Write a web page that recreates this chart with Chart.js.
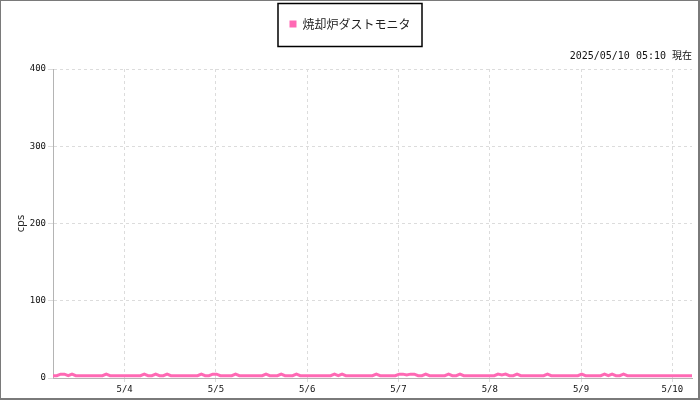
<!DOCTYPE html>
<html>
<head>
<meta charset="utf-8">
<script src="https://cdn.jsdelivr.net/npm/chart.js@4.4.0/dist/chart.umd.min.js"></script>
<style>
    body { margin: 0; background: #fff; }
</style>
</head>
<body>
<canvas id="chart_dust" width="700" height="400"></canvas>
<script>
// chart data
var seriesName = '焼却炉ダストモニタ';
var asOfText = '2025/05/10 05:10 現在';
var startTime = new Date(2025, 4, 3, 5, 10);   // first sample, hourly after that
var dayDates = [
    new Date(2025, 4, 4), new Date(2025, 4, 5), new Date(2025, 4, 6), new Date(2025, 4, 7),
    new Date(2025, 4, 8), new Date(2025, 4, 9), new Date(2025, 4, 10)
];
var dayLabels = ['5/4', '5/5', '5/6', '5/7', '5/8', '5/9', '5/10'];
var yTicks = [0, 100, 200, 300, 400];
var dust = [
    3, 3, 5, 5, 3, 5, 3, 3, 3, 3, 3, 3, 3, 3, 5, 3, 3, 3, 3, 3, 3, 3, 3, 3,
    5, 3, 3, 5, 3, 3, 5, 3, 3, 3, 3, 3, 3, 3, 3, 5, 3, 3, 5, 5, 3, 3, 3, 3,
    5, 3, 3, 3, 3, 3, 3, 3, 5, 3, 3, 3, 5, 3, 3, 3, 5, 3, 3, 3, 3, 3, 3, 3,
    3, 3, 5, 3, 5, 3, 3, 3, 3, 3, 3, 3, 3, 5, 3, 3, 3, 3, 3, 5, 5, 4, 5, 5,
    3, 3, 5, 3, 3, 3, 3, 3, 5, 3, 3, 5, 3, 3, 3, 3, 3, 3, 3, 3, 3, 5, 4, 5,
    3, 3, 5, 3, 3, 3, 3, 3, 3, 3, 5, 3, 3, 3, 3, 3, 3, 3, 3, 5, 3, 3, 3, 3,
    3, 5, 3, 5, 3, 3, 5, 3, 3, 3, 3, 3, 3, 3, 3, 3, 3, 3, 3, 3, 3, 3, 3, 3,
    3
];

var HOUR = 3600 * 1000;
var dayOffsets = [];
for (var d in dayDates) {
    dayOffsets.push((dayDates[d] - startTime) / HOUR);
}
var points = [];
for (var i in dust) {
    points.push({ x: Number(i), y: dust[i] });
}

// white background, outer frame and the box around the legend
var frame = {
    id: 'frame',
    beforeDraw: function (chart) {
        var ctx = chart.ctx;
        ctx.save();
        ctx.fillStyle = '#fff';
        ctx.fillRect(0, 0, chart.width, chart.height);
        ctx.restore();
    },
    afterDraw: function (chart) {
        var ctx = chart.ctx;
        var hb = chart.legend.legendHitBoxes[0];
        ctx.save();
        ctx.strokeStyle = '#000';
        ctx.lineWidth = 1.5;
        ctx.strokeRect(hb.left - 11.5, hb.top - 14.5, hb.width + 23, 43);
        ctx.fillStyle = '#7a7a7a';
        ctx.fillRect(0, 0, chart.width, 1);
        ctx.fillRect(0, 0, 1, chart.height);
        ctx.fillRect(chart.width - 2, 0, 2, chart.height);
        ctx.fillRect(0, chart.height - 2, chart.width, 2);
        ctx.restore();
    }
};

var ctx = document.getElementById('chart_dust');
new Chart(ctx, {
    type: 'line',
    data: {
        datasets: [{
            label: seriesName,
            data: points,
            borderColor: '#ff69b4',
            backgroundColor: '#ff69b4',
            borderWidth: 3,
            pointRadius: 0,
            tension: 0,
            fill: false
        }]
    },
    plugins: [frame],
    options: {
        responsive: false,
        animation: false,
        devicePixelRatio: 1,
        layout: {
            padding: { top: 2, left: 8, right: 8, bottom: 0 }
        },
        plugins: {
            legend: {
                display: true,
                labels: {
                    boxWidth: 7,
                    boxHeight: 7,
                    padding: 16,
                    color: '#222',
                    font: { family: "'Noto Sans CJK JP', 'Noto Sans'", size: 12 },
                    generateLabels: function (chart) {
                        var items = Chart.defaults.plugins.legend.labels.generateLabels(chart);
                        items.forEach(function (it) { it.lineWidth = 0; });
                        return items;
                    }
                }
            },
            subtitle: {
                display: true,
                text: asOfText,
                align: 'end',
                weight: 500,
                color: '#111',
                font: { family: "'DejaVu Sans Mono', 'Noto Sans CJK JP'", size: 10, weight: 'normal' },
                padding: { top: 10, bottom: 7 }
            },
            tooltip: { enabled: false }
        },
        scales: {
            x: {
                type: 'linear',
                min: 0,
                max: dust.length - 1,
                afterBuildTicks: function (scale) {
                    scale.ticks = dayOffsets.map(function (v) { return { value: v }; });
                },
                afterFit: function (scale) {
                    scale.height = 22;
                },
                ticks: {
                    autoSkip: false,
                    maxRotation: 0,
                    padding: 2,
                    color: '#111',
                    font: { family: "'DejaVu Sans Mono'", size: 9 },
                    callback: function (value, index) {
                        return dayLabels[index];
                    }
                },
                grid: {
                    color: '#dcdcdc',
                    tickLength: 4
                },
                border: {
                    color: '#b4b4b4',
                    dash: [3, 3]
                }
            },
            y: {
                min: 0,
                max: 400,
                afterBuildTicks: function (scale) {
                    scale.ticks = yTicks.map(function (v) { return { value: v }; });
                },
                afterFit: function (scale) {
                    scale.width = 45;
                },
                title: {
                    display: true,
                    text: 'cps',
                    color: '#222',
                    font: { family: "'Noto Sans'", size: 11 },
                    padding: { top: 6, bottom: 0 }
                },
                ticks: {
                    padding: 2,
                    color: '#111',
                    font: { family: "'DejaVu Sans Mono'", size: 9 }
                },
                grid: {
                    color: '#dcdcdc',
                    tickLength: 5
                },
                border: {
                    color: '#b4b4b4',
                    dash: [3, 3]
                }
            }
        }
    }
});
</script>
</body>
</html>
